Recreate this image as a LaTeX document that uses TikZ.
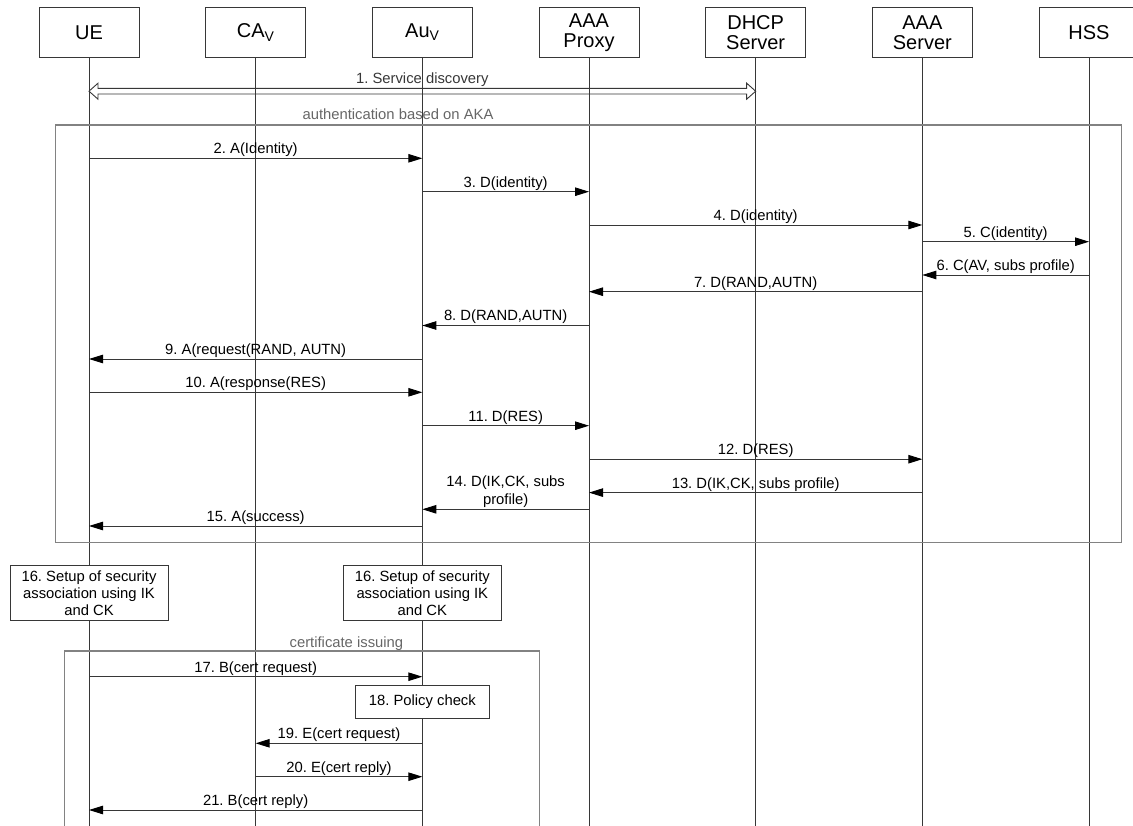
\documentclass[tikz,border=0pt]{standalone}
\usepackage{fontspec}
\setmainfont{Liberation Sans}
\frenchspacing
\definecolor{lineblk}{RGB}{55, 55, 55}
\definecolor{framegray}{RGB}{130, 130, 130}
\usetikzlibrary{arrows.meta, calc}

\begin{document}
\begin{tikzpicture}[x=1pt, y=-1pt,
  every node/.style={font=\fontsize{14.8}{18}\selectfont},
  hdr/.style={draw=lineblk, line width=0.9pt, fill=white, minimum width=100pt, minimum height=50.4pt, inner sep=0pt, align=center, font=\fontsize{20}{20}\selectfont},
  life/.style={draw=lineblk, line width=0.9pt},
  msg/.style={draw=lineblk, line width=0.9pt, -{Triangle[length=14pt, width=8.5pt, color=black]}},
  lbl/.style={above, inner sep=1pt},
  note/.style={draw=lineblk, fill=white, line width=0.9pt, align=center, inner sep=0pt, font=\fontsize{14.8}{17}\selectfont},
  frame/.style={draw=framegray, line width=1.2pt},
  ftitle/.style={text=black!60, anchor=base}]
  \useasboundingbox (0,0) rectangle (1133,826);

  % entities
  \node[hdr] (ue) at (89,32.5) {UE};
  \node[hdr] (cav) at (255.67,32.5) {CA\textsubscript{V}};
  \node[hdr] (auv) at (422.33,32.5) {Au\textsubscript{V}};
  \node[hdr] (proxy) at (589,32.5) {AAA\\Proxy};
  \node[hdr] (dhcp) at (755.67,32.5) {DHCP\\Server};
  \node[hdr] (aaasrv) at (922.33,32.5) {AAA\\Server};
  \node[hdr] (hss) at (1089,32.5) {HSS};

  % lifelines
  \draw[life] (ue.south) -- (ue |- 0,826);
  \draw[life] (cav.south) -- (cav |- 0,826);
  \draw[life] (auv.south) -- (auv |- 0,826);
  \draw[life] (proxy.south) -- (proxy |- 0,826);
  \draw[life] (dhcp.south) -- (dhcp |- 0,826);
  \draw[life] (aaasrv.south) -- (aaasrv |- 0,826);
  \draw[life] (hss.south) -- (hss |- 0,826);

  % 1. service discovery (hollow double arrow)
  \coordinate (sdL) at (ue |- 0,91.2);
  \coordinate (sdR) at (dhcp |- 0,91.2);
  \draw[lineblk, line width=0.9pt] (sdL) -- ++(9,-8) -- ++(0,5.15)
    -- node[lbl]{1. Service discovery} ($(sdR)+(-9,-2.85)$) -- ++(0,-5.15) -- (sdR)
    -- ++(-9,8) -- ++(0,-5.15) -- ($(sdL)+(9,2.85)$) -- ++(0,5.15) -- cycle;

  % authentication based on AKA
  \node[ftitle] (authtitle) at (398,120) {authentication based on AKA};
  \draw[frame] (55.6,125) rectangle (1121.6,542.7);

  \draw[msg] (ue |- 0,158.3) -- node[lbl]{2. A(Identity)} (auv |- 0,158.3);
  \draw[msg] (auv |- 0,191.7) -- node[lbl]{3. D(identity)} (proxy |- 0,191.7);
  \draw[msg] (proxy |- 0,225) -- node[lbl]{4. D(identity)} (aaasrv |- 0,225);
  \draw[msg] (aaasrv |- 0,241.7) -- node[lbl]{5. C(identity)} (hss |- 0,241.7);
  \draw[msg] (hss |- 0,275) -- node[lbl]{6. C(AV, subs profile)} (aaasrv |- 0,275);
  \draw[msg] (aaasrv |- 0,291.7) -- node[lbl]{7. D(RAND,AUTN)} (proxy |- 0,291.7);
  \draw[msg] (proxy |- 0,325.5) -- node[lbl]{8. D(RAND,AUTN)} (auv |- 0,325.5);
  \draw[msg] (auv |- 0,359) -- node[lbl]{9. A(request(RAND, AUTN)} (ue |- 0,359);
  \draw[msg] (ue |- 0,392.3) -- node[lbl]{10. A(response(RES)} (auv |- 0,392.3);
  \draw[msg] (auv |- 0,425.7) -- node[lbl]{11. D(RES)} (proxy |- 0,425.7);
  \draw[msg] (proxy |- 0,459.2) -- node[lbl]{12. D(RES)} (aaasrv |- 0,459.2);
  \draw[msg] (aaasrv |- 0,492.6) -- node[lbl]{13. D(IK,CK, subs profile)} (proxy |- 0,492.6);
  \draw[msg] (proxy |- 0,509.3) -- node[lbl, align=center]{14. D(IK,CK, subs\\profile)} (auv |- 0,509.3);
  \draw[msg] (auv |- 0,526) -- node[lbl]{15. A(success)} (ue |- 0,526);

  % 16. security association
  \node[note, minimum width=158pt, minimum height=54.3pt] (sa1) at (ue |- 0,592.85) {16. Setup of security\\association using IK\\and CK};
  \node[note, minimum width=158pt, minimum height=54.3pt] (sa2) at (auv |- 0,592.85) {16. Setup of security\\association using IK\\and CK};

  % certificate issuing
  \node[ftitle] (certtitle) at (346.4,647) {certificate issuing};
  \draw[frame] (64.7,900) |- (539.3,651) -- (539.3,900);

  \draw[msg] (ue |- 0,676.7) -- node[lbl]{17. B(cert request)} (auv |- 0,676.7);
  \node[note, minimum width=134pt, minimum height=33.3pt] (policy) at (auv |- 0,701.65) {18. Policy check};
  \draw[msg] (auv |- 0,743.3) -- node[lbl]{19. E(cert request)} (cav |- 0,743.3);
  \draw[msg] (cav |- 0,776.7) -- node[lbl]{20. E(cert reply)} (auv |- 0,776.7);
  \draw[msg] (auv |- 0,810) -- node[lbl]{21. B(cert reply)} (ue |- 0,810);
\end{tikzpicture}
\end{document}
